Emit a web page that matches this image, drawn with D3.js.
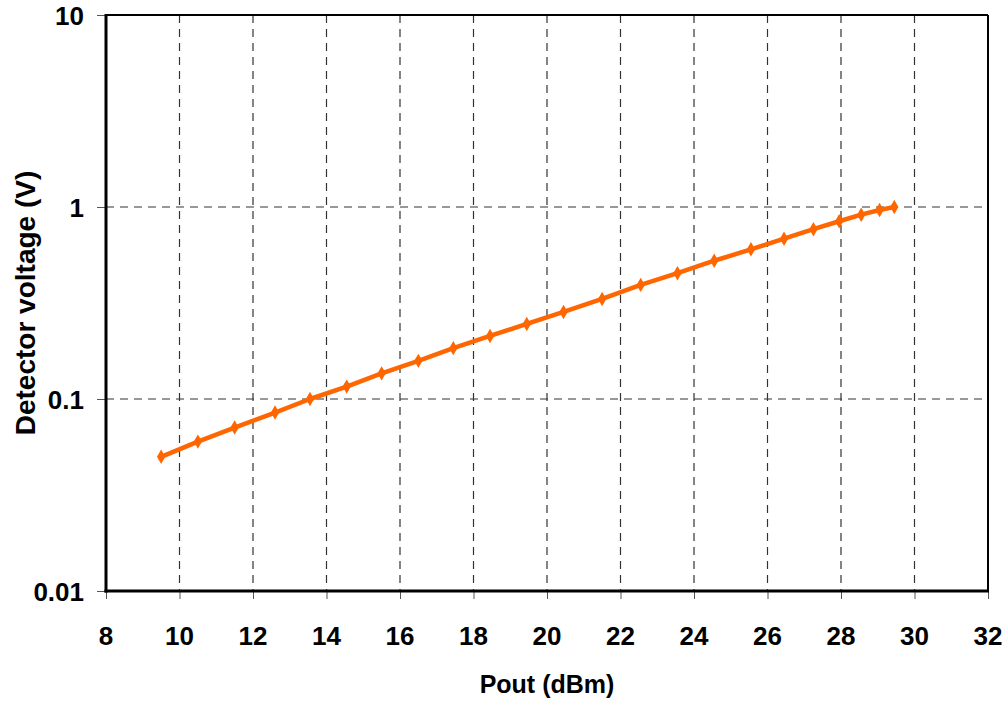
<!DOCTYPE html>
<html><head><meta charset="utf-8">
<script src="https://cdn.jsdelivr.net/npm/d3@7/dist/d3.min.js"></script>
<style>body{margin:0;background:#fff}svg{display:block}text{font-family:"Liberation Sans",Arial,sans-serif;font-weight:bold}</style>
</head><body><svg id="c" width="1008" height="703"></svg>
<script>
const poutDbm = [9.5,10.5,11.5,12.6,13.55,14.55,15.5,16.5,17.45,18.45,19.45,20.45,21.5,22.55,23.55,24.55,25.55,26.45,27.25,27.95,28.55,29.05,29.45];
const voltage = [0.050,0.060,0.071,0.085,0.100,0.116,0.136,0.158,0.184,0.213,0.246,0.284,0.332,0.393,0.452,0.525,0.602,0.684,0.766,0.843,0.912,0.965,1.0];
const xTicks = [8,10,12,14,16,18,20,22,24,26,28,30,32];
const yTicks = [0.01,0.1,1,10];
const yTickLabels = ["0.01","0.1","1","10"];

const svg = d3.select("#c");
const L=106,R=988,T=15,B=591;
const x = d3.scaleLinear().domain([8,32]).range([L,R]);
const y = d3.scaleLog().domain([0.01,10]).range([B,T]);

// grid
const g = svg.append("g");
g.selectAll("line.vg").data(xTicks.filter(d=>d>8&&d<32)).enter().append("line")
 .attr("x1",d=>x(d)).attr("x2",d=>x(d)).attr("y1",T).attr("y2",B)
 .attr("stroke","#333").attr("stroke-width",1.2).attr("stroke-dasharray","8,6");
g.selectAll("line.hg").data(yTicks.filter(d=>d>0.01&&d<10)).enter().append("line")
 .attr("x1",L).attr("x2",R).attr("y1",d=>y(d)).attr("y2",d=>y(d))
 .attr("stroke","#333").attr("stroke-width",1.2).attr("stroke-dasharray","8,6");

// ticks
svg.append("g").attr("transform",`translate(0,${B})`)
 .call(d3.axisBottom(x).tickValues(xTicks).tickSize(8).tickFormat(""))
 .call(a=>a.select(".domain").remove())
 .call(a=>a.selectAll("line").attr("stroke","#555"));
svg.append("g").attr("transform",`translate(${L},0)`)
 .call(d3.axisLeft(y).tickValues(yTicks).tickSize(9).tickFormat(""))
 .call(a=>a.select(".domain").remove())
 .call(a=>a.selectAll("line").attr("stroke","#555"));

// frame
svg.append("line").attr("x1",L).attr("x2",R).attr("y1",T).attr("y2",T).attr("stroke","#000").attr("stroke-width",2);
svg.append("line").attr("x1",R).attr("x2",R).attr("y1",T).attr("y2",B).attr("stroke","#000").attr("stroke-width",2);
svg.append("line").attr("x1",L).attr("x2",L).attr("y1",T-1).attr("y2",B+1.5).attr("stroke","#000").attr("stroke-width",3);
svg.append("line").attr("x1",L-1.5).attr("x2",R+1).attr("y1",B).attr("y2",B).attr("stroke","#000").attr("stroke-width",3);

// tick labels
svg.selectAll("text.xt").data(xTicks).enter().append("text")
 .attr("x",d=>x(d)).attr("y",645).attr("text-anchor","middle").attr("font-size",26).text(d=>d);
svg.selectAll("text.yt").data(yTicks).enter().append("text")
 .attr("x",84).attr("y",d=>y(d)+9.5).attr("text-anchor","end").attr("font-size",26).text((d,i)=>yTickLabels[i]);

// titles
svg.append("text").attr("x",(L+R)/2).attr("y",693).attr("text-anchor","middle").attr("font-size",25).text("Pout (dBm)");
svg.append("text").attr("transform",`translate(35,${(T+B)/2}) rotate(-90)`).attr("text-anchor","middle").attr("font-size",28).text("Detector voltage (V)");

// series
const data = poutDbm.map((p,i)=>({p,v:voltage[i]}));
svg.append("path").datum(data).attr("fill","none").attr("stroke","#FF6600").attr("stroke-width",4.5)
 .attr("stroke-linejoin","round").attr("d",d3.line().x(d=>x(d.p)).y(d=>y(d.v)));
svg.selectAll("path.m").data(data).enter().append("path")
 .attr("transform",d=>`translate(${x(d.p)},${y(d.v)})`)
 .attr("d",d3.symbol(d3.symbolDiamond,60)).attr("fill","#FF6600");
</script></body></html>
